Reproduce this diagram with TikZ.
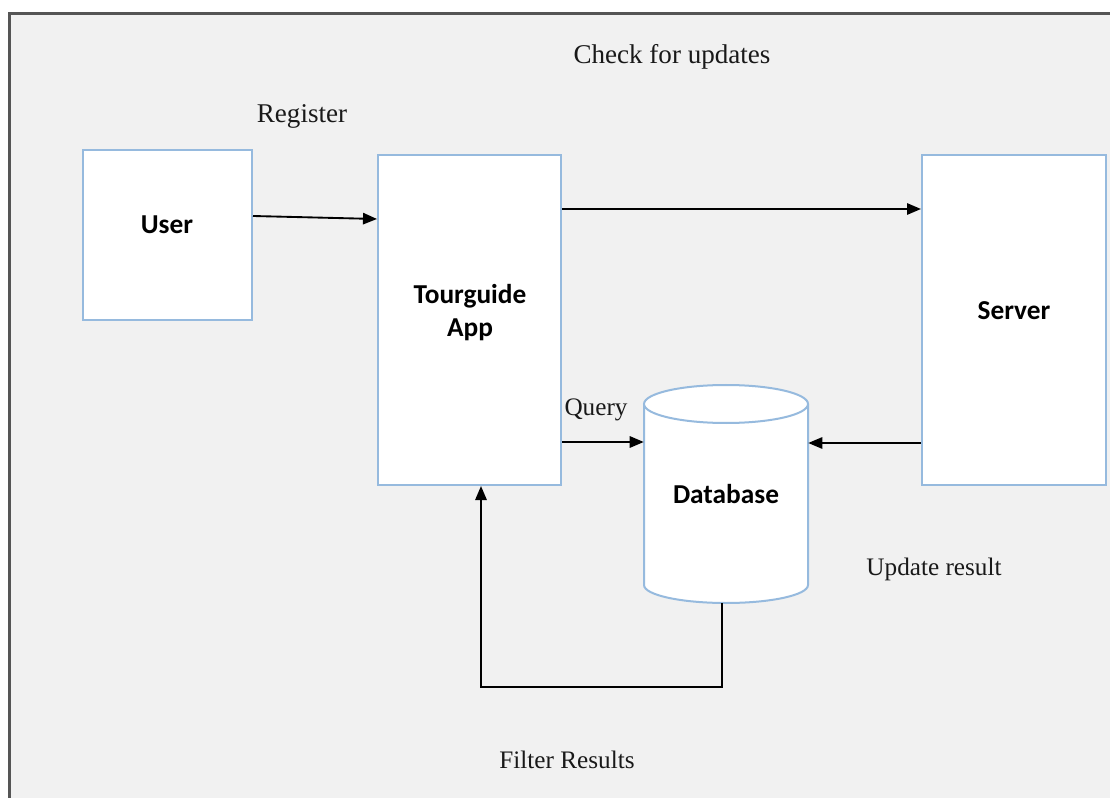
\documentclass[tikz,border=0pt]{standalone}
\usepackage{fontspec}
\setmainfont{Liberation Serif}
\newfontfamily\calib{Carlito}
\usetikzlibrary{arrows.meta,calc}
\definecolor{bg}{RGB}{241,241,241}
\definecolor{boxblue}{RGB}{150,186,222}
\definecolor{framecol}{RGB}{85,85,85}
\begin{document}
\begin{tikzpicture}[x=0.75pt,y=-0.75pt,
  box/.style={draw=boxblue,line width=1.5pt,fill=white,inner sep=0pt},
  boldlbl/.style={font=\calib\bfseries\fontsize{20.5}{24.75}\selectfont,align=center,text=black},
  lbl/.style={font=\fontsize{18.9}{22}\selectfont,text=black!90,anchor=base,inner sep=0pt},
  biglbl/.style={lbl,font=\fontsize{20.3}{24}\selectfont},
  arr/.style={line width=1.4pt,-{Triangle[length=10.5pt,width=8.5pt]}}]
\useasboundingbox (0,0) rectangle (1110,798);
\fill[white] (0,0) rectangle (1110,798);
\fill[bg] (9,14) rectangle (1110,798);
\draw[framecol,line width=2.25pt] (9,798) -- (9,14) -- (1110,14);

% boxes
\node[box,minimum width=126.75pt,minimum height=127.5pt] (user) at (167.5,235) {};
\node[boldlbl] (usertxt) at (167,225) {User};
\node[box,minimum width=137.25pt,minimum height=247.5pt] (app) at (469.5,320) {};
\node[boldlbl] (apptxt) at (470,313) {Tourguide\\App};
\node[box,minimum width=138pt,minimum height=247.5pt] (server) at (1014,320) {};
\node[boldlbl] (servertxt) at (1014,311) {Server};

% database cylinder
\fill[white] (644,404) -- (644,585) arc[start angle=180,end angle=0,x radius=82,y radius=18] -- (808,404) -- cycle;
\draw[boxblue,line width=1.5pt] (644,404) -- (644,585) arc[start angle=180,end angle=0,x radius=82,y radius=18] -- (808,404);
\draw[boxblue,line width=1.5pt,fill=white] (726,404) ellipse[x radius=82,y radius=19];
\node[minimum width=123pt,minimum height=163.5pt,inner sep=0pt,boldlbl] (db) at (726,494) {Database};

% connectors
\draw[arr] ([yshift=14.25pt]user.east) -- ([yshift=75.75pt]app.west);
\draw[arr] ([yshift=83.25pt]app.east) -- ([yshift=83.25pt]server.west);
\draw[arr] ([yshift=-91.5pt]app.east) -- ([yshift=39pt]db.west);
\draw[arr] ([yshift=-92.25pt]server.west) -- ([yshift=38.25pt]db.east);
\draw[arr] ([xshift=-3pt]db.south) -- ++(0,84) -| ([xshift=8.625pt]app.south);

% labels
\node[biglbl] (chk) at (672,64) {Check for updates};
\node[biglbl] (reg) at (302,123) {Register};
\node[lbl] (qry) at (596,416) {Query};
\node[lbl] (upd) at (934,575) {Update result};
\node[lbl] (flt) at (567,768) {Filter Results};
\end{tikzpicture}
\end{document}
